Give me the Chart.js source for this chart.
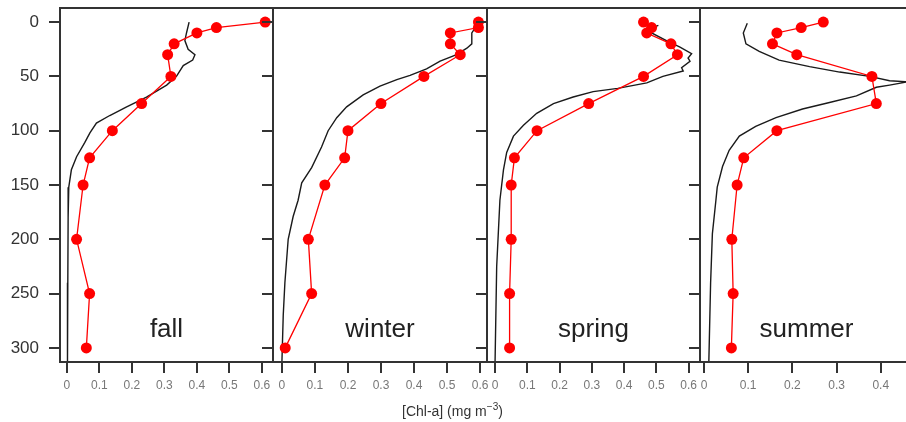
<!DOCTYPE html>
<html>
<head>
<meta charset="utf-8">
<script src="https://cdn.jsdelivr.net/npm/chart.js@4.4.1/dist/chart.umd.min.js"></script>
<style>
body { margin: 0; background: #fff; }
#wrap { position: relative; width: 906px; height: 422px; overflow: hidden; background: #fff; }
#wrap canvas { position: absolute; left: 0; top: 0; }
#xtitle { position: absolute; left: 402px; top: 401px; font: 14px "Liberation Sans", Arial, sans-serif; color: #333; white-space: nowrap; }
#xtitle sup { font-size: 10px; }
</style>
</head>
<body>
<div id="wrap">
  <canvas id="c0" width="920" height="422"></canvas>
  <canvas id="c1" width="920" height="422"></canvas>
  <canvas id="c2" width="920" height="422"></canvas>
  <canvas id="c3" width="920" height="422"></canvas>
  <div id="xtitle">[Chl-a] (mg m<sup>−3</sup>)</div>
</div>
<script>
// seasons / bottle depths / tick labels
var seasons = ['fall', 'winter', 'spring', 'summer'];
var depthLevels = [0, 5, 10, 20, 30, 50, 75, 100, 125, 150, 200, 250, 300];
var depthTicks = [0, 50, 100, 150, 200, 250, 300];
var chlTicks = [0, 0.1, 0.2, 0.3, 0.4, 0.5, 0.6];
var chlTicksSummer = [0, 0.1, 0.2, 0.3, 0.4];

// bottle chl-a (red points)
var fallChl = [0.61, 0.46, 0.40, 0.33, 0.31, 0.32, 0.23, 0.14, 0.07, 0.05, 0.03, 0.07, 0.06];
var winterChl = [0.595, 0.595, 0.51, 0.51, 0.54, 0.43, 0.30, 0.20, 0.19, 0.13, 0.08, 0.09, 0.01];
var springChl = [0.46, 0.485, 0.47, 0.545, 0.565, 0.46, 0.29, 0.13, 0.06, 0.05, 0.05, 0.045, 0.045];
var summerChl = [0.27, 0.22, 0.165, 0.155, 0.21, 0.38, 0.39, 0.165, 0.09, 0.075, 0.063, 0.066, 0.062];

// fluorescence profiles (black lines)
var fallProfileDepth = [0, 10, 17, 25, 30, 35, 40, 50, 58, 69, 78, 86, 93, 102, 107, 111, 124, 136, 152, 180, 240, 313];
var fallProfileChl = [0.376, 0.368, 0.363, 0.373, 0.394, 0.387, 0.358, 0.337, 0.307, 0.245, 0.184, 0.132, 0.091, 0.071, 0.062, 0.055, 0.030, 0.014, 0.006, 0.004, 0.003, 0.002];
var winterProfileDepth = [0, 10, 20, 24, 30, 36, 43, 49, 53, 59, 67, 78, 88, 100, 115, 134, 148, 164, 179, 200, 240, 270, 313];
var winterProfileChl = [0.597, 0.575, 0.575, 0.56, 0.529, 0.479, 0.438, 0.388, 0.348, 0.297, 0.246, 0.196, 0.166, 0.14, 0.12, 0.09, 0.06, 0.049, 0.034, 0.019, 0.009, 0.004, 0.0];
var springProfileDepth = [3, 6, 10, 17, 23, 29, 33, 36, 42, 45, 50, 56, 61, 64, 69, 75, 84, 95, 105, 120, 136, 164, 225, 313];
var springProfileChl = [0.506, 0.48, 0.485, 0.531, 0.573, 0.609, 0.598, 0.604, 0.578, 0.583, 0.52, 0.47, 0.38, 0.304, 0.242, 0.181, 0.129, 0.088, 0.057, 0.036, 0.026, 0.015, 0.005, 0.0];
var summerProfileDepth = [1, 10, 20, 27, 35, 41, 46, 50, 54, 55, 58, 60, 68, 74, 80, 88, 96, 105, 118, 133, 152, 164, 195, 240, 313];
var summerProfileChl = [0.098, 0.089, 0.095, 0.125, 0.17, 0.239, 0.307, 0.375, 0.42, 0.46, 0.42, 0.39, 0.345, 0.284, 0.223, 0.163, 0.117, 0.08, 0.057, 0.042, 0.03, 0.027, 0.019, 0.015, 0.011];

var bottleSets = [fallChl, winterChl, springChl, summerChl];
var profileDepths = [fallProfileDepth, winterProfileDepth, springProfileDepth, summerProfileDepth];
var profileSets = [fallProfileChl, winterProfileChl, springProfileChl, summerProfileChl];

// panel layout
var panelLeft = [60, 273, 487, 700];
var panelRight = [273, 487, 700, 913];
var xRange = [[-0.021, 0.634], [-0.027, 0.621], [-0.025, 0.635], [-0.009, 0.473]];
var FONT = '"Liberation Sans", Arial, sans-serif';

function toPoints(depths, values) {
    return depths.map((d, i) => ({ x: values[i], y: d }));
}

var framePlugin = {
    id: 'frame',
    afterDatasetsDraw(chart, args, opts) {
        const ctx = chart.ctx;
        const a = chart.chartArea;
        ctx.save();
        ctx.strokeStyle = '#333';
        ctx.lineWidth = 2;
        ctx.strokeRect(a.left, a.top, a.right - a.left, a.bottom - a.top);
        ctx.font = '26px ' + FONT;
        ctx.fillStyle = '#222';
        ctx.textAlign = 'center';
        ctx.textBaseline = 'alphabetic';
        ctx.fillText(opts.label, (a.left + a.right) / 2, a.bottom - 25);
        ctx.restore();
    }
};

function makePanel(i) {
    const first = i === 0;
    const yWidth = first ? 60 : 11;
    const xTickValues = i === 3 ? chlTicksSummer : chlTicks;
    new Chart(document.getElementById('c' + i), {
        type: 'scatter',
        data: {
            datasets: [{
                data: toPoints(depthLevels, bottleSets[i]),
                showLine: true,
                borderColor: '#ff0000',
                backgroundColor: '#ff0000',
                borderWidth: 1.3,
                pointRadius: 5.5,
                pointBorderWidth: 0,
                pointHoverRadius: 5.5
            }, {
                data: toPoints(profileDepths[i], profileSets[i]),
                showLine: true,
                borderColor: '#1a1a1a',
                borderWidth: 1.4,
                pointRadius: 0,
                pointHoverRadius: 0
            }]
        },
        options: {
            responsive: false,
            animation: false,
            layout: {
                padding: { left: panelLeft[i] - yWidth, right: 920 - panelRight[i], top: 8, bottom: 0 }
            },
            plugins: {
                legend: { display: false },
                tooltip: { enabled: false },
                frame: { label: seasons[i] }
            },
            scales: {
                x: {
                    type: 'linear',
                    position: 'bottom',
                    min: xRange[i][0],
                    max: xRange[i][1],
                    afterBuildTicks: s => { s.ticks = xTickValues.map(v => ({ value: v })); },
                    afterFit: s => { s.height = 60; s.paddingLeft = 0; s.paddingRight = 0; },
                    border: { display: false },
                    grid: { drawOnChartArea: false, drawTicks: true, tickLength: 11, color: '#333', lineWidth: 2 },
                    ticks: {
                        padding: 5,
                        color: '#777',
                        font: { family: FONT, size: 12 },
                        maxRotation: 0,
                        autoSkip: false,
                        callback: v => String(v)
                    }
                },
                y: {
                    type: 'linear',
                    position: 'left',
                    reverse: true,
                    min: -13,
                    max: 313,
                    afterBuildTicks: s => { s.ticks = depthTicks.map(v => ({ value: v })); },
                    afterFit: s => { s.width = yWidth; s.paddingTop = 0; s.paddingBottom = 0; },
                    border: { display: false },
                    grid: { drawOnChartArea: false, drawTicks: true, tickLength: 11, color: '#333', lineWidth: 2 },
                    ticks: {
                        padding: 10,
                        color: first ? '#333' : 'rgba(0,0,0,0)',
                        font: { family: FONT, size: 17 },
                        autoSkip: false,
                        callback: v => String(v)
                    }
                }
            }
        },
        plugins: [framePlugin]
    });
}

seasons.forEach((s, i) => makePanel(i));
</script>
</body>
</html>
